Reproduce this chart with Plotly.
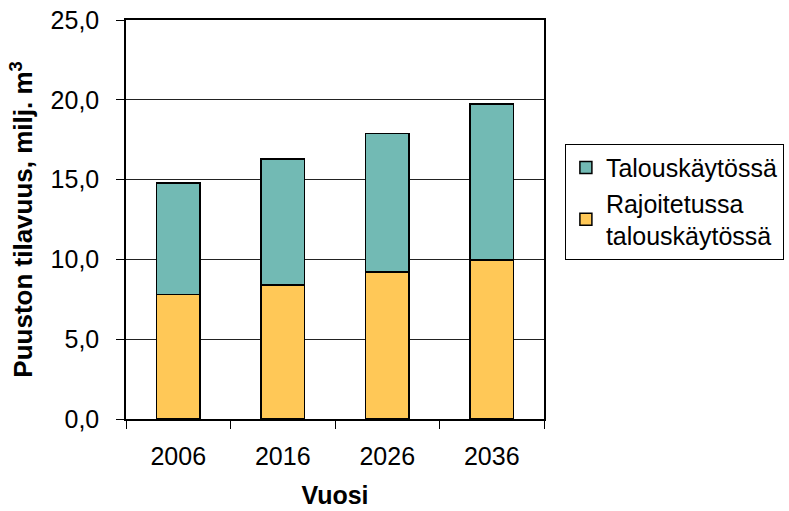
import plotly.graph_objects as go

years = ["2006", "2016", "2026", "2036"]
rajoitettu = [7.8, 8.4, 9.2, 9.95]
talous = [7.0, 7.9, 8.7, 9.8]
y_ticks = [0, 5, 10, 15, 20, 25]

fig = go.Figure()
fig.add_trace(go.Bar(x=years, y=rajoitettu, name="Rajoitetussa<br>talouskäytössä",
                     legendgroup="b",
                     marker=dict(color="#FFC857", line=dict(color="black", width=1.5))))
fig.add_trace(go.Bar(x=years, y=talous, name="Talouskäytössä",
                     legendgroup="a",
                     marker=dict(color="#72BAB4", line=dict(color="black", width=1.5))))

font = "Liberation Sans, Arial, sans-serif"
fig.update_layout(
    barmode="stack",
    bargap=0.583,
    width=789, height=511,
    margin=dict(l=126, r=245, t=20, b=92, autoexpand=False),
    paper_bgcolor="white", plot_bgcolor="white",
    font=dict(family=font, size=25, color="black"),
    separators=",.",
    legend=dict(x=1.05, y=0.69, xanchor="left", yanchor="top",
                traceorder="reversed", bordercolor="black", borderwidth=1,
                tracegroupgap=14, itemwidth=30,
                font=dict(size=25, color="black"), bgcolor="white"),
    xaxis=dict(type="category", showline=True, linecolor="black", linewidth=1.5,
               mirror=True, ticks="outside", ticklen=8, tickcolor="black",
               tickson="boundaries", ticklabelstandoff=14, automargin=False,
               title=dict(text="<b>Vuosi</b>", font=dict(size=25), standoff=18)),
    yaxis=dict(range=[0, 25], tickvals=y_ticks, tickformat=".1f",
               showline=True, linecolor="black", linewidth=1.5, mirror=True,
               ticks="outside", ticklen=8, tickcolor="black",
               showgrid=True, gridcolor="#222222", gridwidth=1.2,
               ticklabelstandoff=12, automargin=False, ticklabeloverflow="allow",
               title=dict(text="<b>Puuston tilavuus, milj. m<sup>3</sup></b>",
                          font=dict(size=26), standoff=10)),
)

fig.write_html("out.html", config={"displayModeBar": False},
               post_script="document.body.style.margin='0';document.body.style.overflow='hidden';")
